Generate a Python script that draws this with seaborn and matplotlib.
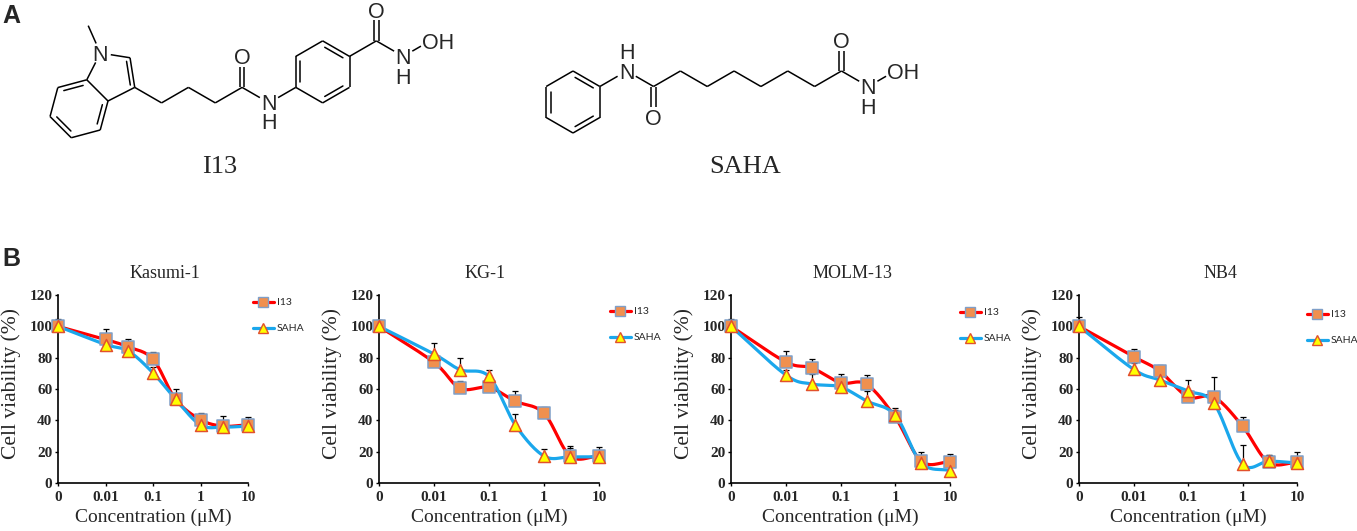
import numpy as np
import pandas as pd
import matplotlib
matplotlib.use("Agg")
import matplotlib.pyplot as plt
from matplotlib.lines import Line2D
import seaborn as sns

# Concentrations (uM) and cell lines
conc = [0, 0.01, 0.03, 0.1, 0.3, 1, 3, 10]
cell_lines = ["Kasumi-1", "KG-1", "MOLM-13", "NB4"]
tick_conc = [0, 0.01, 0.1, 1, 10]
tick_labels = ["0", "0.01", "0.1", "1", "10"]
y_ticks = [0, 20, 40, 60, 80, 100, 120]

# Cell viability (%), upper error bars
kasumi_i13 = [100, 91.6, 86.9, 79.0, 53.4, 40.4, 36.3, 37.2]
kasumi_i13_err = [5, 6.6, 5, 4.7, 6.8, 4.2, 6.2, 4.8]
kasumi_saha = [100, 88.4, 84.3, 70.3, 53.4, 37.0, 35.7, 36.3]
kasumi_saha_err = [3, 3, 3, 4, 3, 4, 3, 3]

kg1_i13 = [100, 77.0, 60.4, 61.0, 52.2, 44.5, 17.2, 17.2]
kg1_i13_err = [4, 3, 5, 3, 6.3, 4.3, 5, 4]
kg1_saha = [100, 82.3, 72.3, 68.0, 37.1, 17.2, 16.7, 16.7]
kg1_saha_err = [4, 7, 7.2, 4, 6.9, 4.6, 6.6, 6.3]

molm_i13 = [100, 77.3, 73.5, 64.0, 63.0, 41.9, 13.9, 13.5]
molm_i13_err = [5, 7, 5.5, 5.4, 6, 6, 6.1, 4.9]
molm_saha = [100, 69.0, 63.2, 61.3, 52.3, 43.3, 12.8, 7.9]
molm_saha_err = [3, 3, 6.5, 3, 6.5, 3, 3, 3]

nb4_i13 = [100, 80.7, 71.5, 55.0, 54.9, 36.3, 13.2, 13.2]
nb4_i13_err = [6, 5.1, 3.9, 3, 13, 5.7, 4.5, 6.5]
nb4_saha = [100, 72.6, 65.8, 58.7, 50.8, 12.2, 13.9, 12.8]
nb4_saha_err = [3, 4, 3, 7.1, 4, 11.8, 3.8, 3]

panels = [
    (kasumi_i13, kasumi_i13_err, kasumi_saha, kasumi_saha_err),
    (kg1_i13, kg1_i13_err, kg1_saha, kg1_saha_err),
    (molm_i13, molm_i13_err, molm_saha, molm_saha_err),
    (nb4_i13, nb4_i13_err, nb4_saha, nb4_saha_err),
]

W, H = 1357, 531
sns.set_style("ticks")
plt.rcParams["font.family"] = ["Liberation Serif", "DejaVu Serif"]

fig = plt.figure(figsize=(W / 100, H / 100), dpi=100)

# pixel boxes of the four plots: left, right
ax_px = [(58, 248), (379, 599), (731, 950), (1079, 1297)]
ax_top, ax_bot = 295, 483
title_x = [0.563, 0.482, 0.557, 0.647]
leg_anchor = [(1.026, 0.984), (1.05, 0.936), (1.046, 0.93), (1.046, 0.92)]

red = "#FF0000"
blue = "#1AA7EC"
sq_face, sq_edge = "#F0904F", "#7F9FC8"
tri_face, tri_edge = "#FFFF00", "#E2512C"


def zero_pos(c):
    # 0 sits one decade below 0.01, as in the original category-like axis
    return np.where(np.asarray(c) > 0, np.log10(np.maximum(c, 1e-12)), -3.0)


def smooth(xp, yp, n=24):
    # Catmull-Rom through the data points (Excel style smoothed line)
    P = np.column_stack([xp, yp]).astype(float)
    P = np.vstack([2 * P[0] - P[1], P, 2 * P[-1] - P[-2]])
    out = []
    t = np.linspace(0, 1, n, endpoint=False)[:, None]
    for i in range(1, len(P) - 2):
        p0, p1, p2, p3 = P[i - 1], P[i], P[i + 1], P[i + 2]
        seg = 0.5 * (2 * p1 + (-p0 + p2) * t + (2 * p0 - 5 * p1 + 4 * p2 - p3) * t ** 2
                     + (-p0 + 3 * p1 - 3 * p2 + p3) * t ** 3)
        out.append(seg)
    out.append(P[-2][None, :])
    out = np.vstack(out)
    return out[:, 0], out[:, 1]


xpos = zero_pos(conc)
for k, (name, (i13, i13e, saha, sahae)) in enumerate(zip(cell_lines, panels)):
    l, r = ax_px[k]
    ax = fig.add_axes([l / W, 1 - ax_bot / H, (r - l) / W, (ax_bot - ax_top) / H])
    ax.set_xscale("log")
    for vals, errs, lc, mk, fc, ec, lab in [
        (i13, i13e, red, "s", sq_face, sq_edge, "I13"),
        (saha, sahae, blue, "^", tri_face, tri_edge, "SAHA"),
    ]:
        sx, sy = smooth(xpos, vals)
        curve = pd.DataFrame({"x": 10 ** sx, "y": sy})
        sns.lineplot(data=curve, x="x", y="y", sort=False, estimator=None, ax=ax,
                     color=lc, lw=2.3, zorder=2, clip_on=False)
        pts = pd.DataFrame({"x": 10 ** xpos, "y": vals})
        ax.errorbar(pts["x"], pts["y"], yerr=[np.zeros(len(errs)), errs], fmt="none",
                    ecolor="black", elinewidth=0.9, capsize=2.2, capthick=0.9,
                    zorder=3, clip_on=False)
        sns.scatterplot(data=pts, x="x", y="y", ax=ax, marker=mk, s=74, color=fc,
                        edgecolor=ec, linewidth=1.1, zorder=4, clip_on=False)

    ax.set_xlim(1e-3, 10)
    ax.set_ylim(0, 120)
    ax.set_xticks([10 ** v for v in zero_pos(tick_conc)])
    ax.set_xticklabels(tick_labels)
    ax.minorticks_off()
    ax.set_yticks(y_ticks)
    ax.tick_params(axis="both", length=2.5, width=1.0, labelsize=11, color="black")
    ax.tick_params(axis="x", pad=3)
    ax.tick_params(axis="y", pad=1.5)
    for lbl in ax.get_xticklabels() + ax.get_yticklabels():
        lbl.set_fontweight("bold")
    for s in ["top", "right"]:
        ax.spines[s].set_visible(False)
    for s in ["left", "bottom"]:
        ax.spines[s].set_linewidth(1.2)
        ax.spines[s].set_color("black")
    ax.set_xlabel("Concentration (\u03bcM)", fontsize=14)
    ax.set_ylabel("Cell viability (%)", fontsize=15.5)
    ax.yaxis.set_label_coords(-47 / (r - l), 0.53)
    ax.xaxis.set_label_coords(0.5, -(517 - ax_bot) / (ax_bot - ax_top))
    ax.xaxis.label.set_va("center")
    ax.yaxis.label.set_va("center")
    ax.text(title_x[k], (ax_bot - 273) / (ax_bot - ax_top), name, transform=ax.transAxes,
            ha="center", va="center", fontsize=13)

    handles = [
        Line2D([0], [0], color=red, lw=2.3, marker="s", markersize=7.5,
               markerfacecolor=sq_face, markeredgecolor=sq_edge, markeredgewidth=1.0),
        Line2D([0], [0], color=blue, lw=2.3, marker="^", markersize=7.5,
               markerfacecolor=tri_face, markeredgecolor=tri_edge, markeredgewidth=1.0),
    ]
    ax.legend(handles, ["I13", "SAHA"], loc="upper left", bbox_to_anchor=leg_anchor[k],
              frameon=False, borderpad=0, borderaxespad=0, handlelength=2.0,
              handletextpad=0.3, labelspacing=1.6, prop={"family": "Lato", "size": 7.5})

# ---- Panel A: chemical structures, drawn in pixel space ----
chem = fig.add_axes([0, 0, 1, 1], zorder=-1)
chem.set_xlim(0, W)
chem.set_ylim(H, 0)
chem.axis("off")

BL = 31
LW = 1.1
afont = {"family": "Liberation Sans", "fontsize": 15.5}
CAP = 7.8  # half cap height in px


def step(p, ang, length=BL):
    a = np.radians(ang)
    return np.array([p[0] + length * np.cos(a), p[1] - length * np.sin(a)])


def bond(p, q, tp=0.0, tq=0.0, off=0.0):
    p, q = np.asarray(p, float), np.asarray(q, float)
    u = (q - p) / np.linalg.norm(q - p)
    n = np.array([-u[1], u[0]])
    a = p + u * tp + n * off
    b = q - u * tq + n * off
    chem.plot([a[0], b[0]], [a[1], b[1]], color="black", lw=LW, solid_capstyle="butt")


def inner(p, q, c, gap=4.5, cut=5.0):
    p, q, c = (np.asarray(v, float) for v in (p, q, c))
    u = (q - p) / np.linalg.norm(q - p)
    m = (p + q) / 2
    t = (c - m) / np.linalg.norm(c - m)
    a = p + u * cut + t * gap
    b = q - u * cut + t * gap
    chem.plot([a[0], b[0]], [a[1], b[1]], color="black", lw=LW)


def atom(p, s, dy=0.0):
    chem.text(p[0], p[1] + dy + CAP, s, ha="center", va="baseline", **afont)


def hydroxyl(p):
    chem.text(p[0] - 8.4, p[1] + CAP, "OH", ha="left", va="baseline", **afont)


def ring(start, angles):
    pts = [np.asarray(start, float)]
    for a in angles[:-1]:
        pts.append(step(pts[-1], a))
    return pts


T = 10.5  # trim at labelled atoms

# I13: indole
c3a = np.array([108.0, 101.0])
L6 = 30
c7a = step(c3a, 135, L6)
c7 = step(c7a, 195, L6)
c6 = step(c7, 255, L6)
c5 = step(c6, 315, L6)
c4 = step(c5, 15, L6)
benz = [c3a, c7a, c7, c6, c5, c4]
bc = np.mean(benz, axis=0)
for i in range(6):
    bond(benz[i], benz[(i + 1) % 6])
for a, b in [(c7a, c7), (c6, c5), (c4, c3a)]:
    inner(a, b, bc)
n1 = step(c7a, 63, L6)
c2 = step(n1, -9, L6)
c3 = step(c2, -81, L6)
pc = np.mean([c3a, c7a, n1, c2, c3], axis=0)
bond(c7a, n1, 0, T)
bond(n1, c2, T, 0)
bond(c2, c3)
bond(c3, c3a)
inner(c2, c3, pc, gap=4.0, cut=3.0)
me = step(n1, 114, 30)
bond(n1, me, T, 0)
atom(n1, "N")

# butanoyl chain
p = c3
chain = [p]
for a in [-30, 30, -30, 30]:
    p = step(p, a)
    chain.append(p)
for a, b in zip(chain[:-1], chain[1:]):
    bond(a, b)
co1 = chain[-1]
o1 = step(co1, 90)
bond(co1, o1, 0, T, off=2.2)
bond(co1, o1, 0, T, off=-2.2)
atom(o1, "O")
nh1 = step(co1, -30)
bond(co1, nh1, 0, T)
atom(nh1, "N", dy=-1)
atom(nh1, "H", dy=18.5)

# para-substituted phenyl
r1 = step(nh1, 30)
bond(nh1, r1, T, 0)
ph = ring(r1, [90, 30, -30, -90, -150, 150])
phc = np.mean(ph, axis=0)
for i in range(6):
    bond(ph[i], ph[(i + 1) % 6])
for i, j in [(0, 1), (2, 3), (4, 5)]:
    inner(ph[i], ph[j], phc)
co2 = step(ph[3], 30)
bond(ph[3], co2)
o2 = step(co2, 90)
bond(co2, o2, 0, T, off=2.2)
bond(co2, o2, 0, T, off=-2.2)
atom(o2, "O")
nh2 = step(co2, -30)
bond(co2, nh2, 0, T)
atom(nh2, "N")
atom(nh2, "H", dy=20)
oh2 = step(nh2, 30)
bond(nh2, oh2, T, T)
hydroxyl(oh2)
chem.text(220, 167, "I13", ha="center", va="center", fontsize=19)

# SAHA
sc = np.array([573.0, 102.0])
sph = [sc + BL * np.array([np.cos(np.radians(a)), -np.sin(np.radians(a))])
       for a in [150, 90, 30, -30, -90, -150]]
for i in range(6):
    bond(sph[i], sph[(i + 1) % 6])
for i, j in [(5, 0), (1, 2), (3, 4)]:
    inner(sph[i], sph[j], sc)
sn = step(sph[2], 30)
bond(sph[2], sn, 0, T)
atom(sn, "N")
atom(sn, "H", dy=-20)
sco = step(sn, -30)
bond(sn, sco, T, 0)
so = step(sco, -90)
bond(sco, so, 0, T, off=2.2)
bond(sco, so, 0, T, off=-2.2)
atom(so, "O")
p = sco
schain = [p]
for a in [30, -30, 30, -30, 30, -30, 30]:
    p = step(p, a)
    schain.append(p)
for a, b in zip(schain[:-1], schain[1:]):
    bond(a, b)
sco2 = schain[-1]
so2 = step(sco2, 90)
bond(sco2, so2, 0, T, off=2.2)
bond(sco2, so2, 0, T, off=-2.2)
atom(so2, "O")
sn2 = step(sco2, -30)
bond(sco2, sn2, 0, T)
atom(sn2, "N")
atom(sn2, "H", dy=19.5)
soh = step(sn2, 30)
bond(sn2, soh, T, T)
hydroxyl(soh)
chem.text(745, 167, "SAHA", ha="center", va="center", fontsize=19)

# panel letters
fig.text(2 / W, 1 - 16 / H, "A", ha="left", va="center", fontsize=18,
         fontweight="bold", family="Liberation Sans")
fig.text(2 / W, 1 - 259 / H, "B", ha="left", va="center", fontsize=18,
         fontweight="bold", family="Liberation Sans")

fig.savefig("out.png", dpi=100)
